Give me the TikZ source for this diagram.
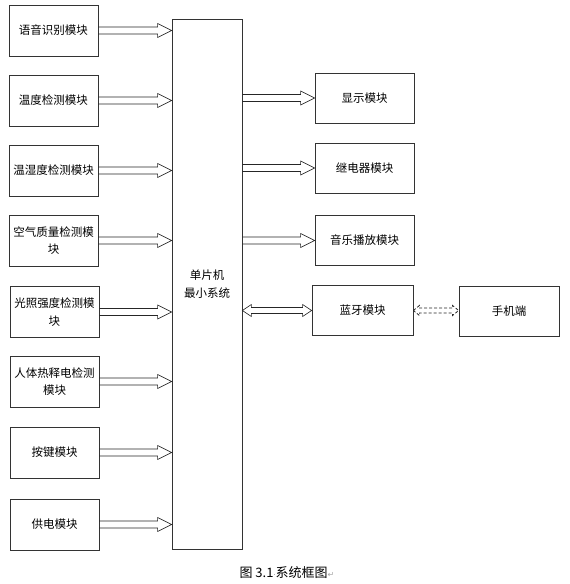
\documentclass[tikz,border=0pt]{standalone}
\usepackage{fontspec}
\setmainfont{Noto Sans CJK SC}
\newfontfamily\symfont{DejaVu Sans}
\usetikzlibrary{calc,positioning}

\tikzset{
  module/.style={draw=black!80,line width=0.8pt,minimum width=89pt,minimum height=51pt,
    inner sep=0pt,align=center,font=\fontsize{11.5}{17.5}\selectfont},
  outbox/.style={module,minimum width=99pt,minimum height=50pt},
  fat/.style={draw=black!85,line width=0.6pt,line join=miter},
}

% hollow arrow pointing right, from #1 to #2
\newcommand{\fatarrow}[2]{%
  \draw[fat] ($(#1)+(0,-3.5)$) -- ($(#2)+(-14,-3.5)$) -- ($(#2)+(-14,-7)$) -- (#2)
    -- ($(#2)+(-14,7)$) -- ($(#2)+(-14,3.5)$) -- ($(#1)+(0,3.5)$);}

% hollow arrow with two heads: left tip, right tip, head length, half shaft, extra style
\newcommand{\fatdouble}[5]{%
  \draw[fat,#5] (#1) -- ($(#1)+(#3,-2*#4)$) -- ($(#1)+(#3,-#4)$) -- ($(#2)+(-#3,-#4)$)
    -- ($(#2)+(-#3,-2*#4)$) -- (#2) -- ($(#2)+(-#3,2*#4)$) -- ($(#2)+(-#3,#4)$)
    -- ($(#1)+(#3,#4)$) -- ($(#1)+(#3,2*#4)$) -- cycle;}

\begin{document}
\begin{tikzpicture}[x=1pt,y=-1pt]
    \useasboundingbox (0,0) rectangle (570,584);

    % input modules
    \node[module] (voice) at (53.5,30.5) {语音识别模块};
    \node[module] (temp) at (53.5,100.5) {温度检测模块};
    \node[module] (humi) at (53.5,170.5) {温湿度检测模块};
    \node[module] (air) at (53.5,240.5) {空气质量检测模\\块};
    \node[module] (light) at (54.5,312) {光照强度检测模\\块};
    \node[module] (pir) at (54.5,381.5) {人体热释电检测\\模块};
    \node[module] (key) at (54.5,452.5) {按键模块};
    \node[module] (power) at (54.5,524.5) {供电模块};

    % controller
    \node[module,minimum width=70pt,minimum height=530pt] (mcu) at (207,284) {单片机\\最小系统};

    % output modules
    \node[outbox] (disp) at (364.5,98) {显示模块};
    \node[outbox] (relay) at (364.5,168) {继电器模块};
    \node[outbox] (music) at (364.5,240.5) {音乐播放模块};
    \node[outbox,minimum width=101pt] (bt) at (362.5,310.5) {蓝牙模块};
    \node[outbox,minimum width=100pt] (phone) at (509,311.5) {手机端};

    \fatarrow{voice.east}{voice.east -| mcu.west}
    \fatarrow{temp.east}{temp.east -| mcu.west}
    \fatarrow{humi.east}{humi.east -| mcu.west}
    \fatarrow{air.east}{air.east -| mcu.west}
    \fatarrow{light.east}{light.east -| mcu.west}
    \fatarrow{pir.east}{pir.east -| mcu.west}
    \fatarrow{key.east}{key.east -| mcu.west}
    \fatarrow{power.east}{power.east -| mcu.west}

    \fatarrow{mcu.east |- disp.west}{disp.west}
    \fatarrow{mcu.east |- relay.west}{relay.west}
    \fatarrow{mcu.east |- music.west}{music.west}
    \fatdouble{mcu.east |- bt.west}{bt.west}{9}{3}{}
    \fatdouble{bt.east}{phone.west |- bt.east}{6}{2.5}{line width=0.8pt,dash pattern=on 3pt off 2pt}

    \node[font=\fontsize{13}{15}\selectfont] (cap) at (287,573)
        {图 3.1{\symfont\color{gray}\fontsize{7}{7}\selectfont·}系统框图{\symfont\color{gray!70}\fontsize{8}{8}\selectfont ↵}};
\end{tikzpicture}
\end{document}
